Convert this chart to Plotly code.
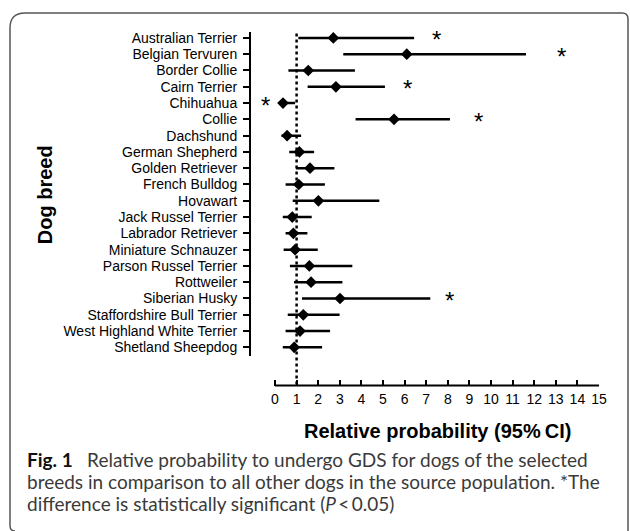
import plotly.graph_objects as go

breeds = ["Australian Terrier", "Belgian Tervuren", "Border Collie", "Cairn Terrier",
          "Chihuahua", "Collie", "Dachshund", "German Shepherd", "Golden Retriever",
          "French Bulldog", "Hovawart", "Jack Russel Terrier", "Labrador Retriever",
          "Miniature Schnauzer", "Parson Russel Terrier", "Rottweiler", "Siberian Husky",
          "Staffordshire Bull Terrier", "West Highland White Terrier", "Shetland Sheepdog"]
estimate = [2.70, 6.10, 1.54, 2.82, 0.37, 5.51, 0.56, 1.13, 1.62,
            1.10, 2.01, 0.80, 0.85, 0.93, 1.59, 1.67, 3.01, 1.31, 1.16, 0.89]
ci_low = [1.08, 3.16, 0.62, 1.51, 0.20, 3.73, 0.30, 0.66, 0.97,
          0.49, 0.82, 0.36, 0.49, 0.40, 0.69, 0.88, 1.25, 0.59, 0.49, 0.36]
ci_high = [6.44, 11.62, 3.70, 5.09, 0.93, 8.10, 1.21, 1.81, 2.75,
           2.31, 4.83, 1.70, 1.50, 1.98, 3.58, 3.12, 7.19, 2.99, 2.55, 2.18]
# x position (relative probability units) of significance asterisk, None = not significant
star_x = [7.48, 13.27, None, 6.13, -0.42, 9.41, None, None, None,
          None, None, None, None, None, None, None, 8.10, None, None, None]
x_ticks = list(range(0, 16))
reference_value = 1

W, H = 630, 531
WX = 622  # effective horizontal extent observed in the rendered page
def px(x):
    return x / WX
def py(y):
    return 1 - y / H

ARIAL = "Liberation Sans, Arial, sans-serif"
rows = list(range(len(breeds)))

fig = go.Figure()
fig.add_trace(go.Scatter(
    x=estimate, y=rows, mode="markers",
    marker=dict(symbol="diamond", size=9, color="black"),
    error_x=dict(type="data", symmetric=False,
                 array=[h - e for h, e in zip(ci_high, estimate)],
                 arrayminus=[e - l for e, l in zip(estimate, ci_low)],
                 thickness=2.5, width=0, color="black"),
    cliponaxis=False, showlegend=False, hoverinfo="skip"))

annotations = []
for r, sx in zip(rows, star_x):
    if sx is not None:
        annotations.append(dict(x=sx, y=r, xref="x", yref="y", text="*", showarrow=False,
                                font=dict(family=ARIAL, size=24, color="black"),
                                xanchor="center", yanchor="middle", yshift=-2))

# axis titles
annotations.append(dict(x=px(437), y=py(431), xref="paper", yref="paper",
                        text="<b>Relative probability (95%\u2009CI)</b>", showarrow=False,
                        font=dict(family=ARIAL, size=20, color="black"),
                        xanchor="center", yanchor="middle"))
annotations.append(dict(x=px(45), y=py(194), xref="paper", yref="paper",
                        text="<b>Dog breed</b>", showarrow=False, textangle=-90,
                        font=dict(family=ARIAL, size=20, color="black"),
                        xanchor="center", yanchor="middle"))

cap_font = dict(family="Lato, Open Sans, sans-serif", size=19, color="#3a3a3a")
cap_lines = [
    "<b><span style='color:#111'>Fig. 1</span></b>\u2002 Relative probability to undergo GDS for dogs of the selected",
    "breeds in comparison to all other dogs in the source population. *The",
    "difference is statistically significant (<i>P</i>\u2009&lt;\u20090.05)",
]
cap_y = [459, 481, 503]
for t, yy in zip(cap_lines, cap_y):
    annotations.append(dict(x=px(25), y=py(yy), xref="paper", yref="paper", text=t,
                            showarrow=False, font=cap_font, xanchor="left", yanchor="middle"))

# frame (rounded rectangle)
def P(x, y):
    return f"{px(x):.5f},{py(y):.5f}"
frame_path = (f"M {P(10, 526)} L {P(10, 26)} Q {P(10, 11)} {P(25, 11)} "
              f"L {P(622, 11)} Q {P(628, 11)} {P(628, 17)} L {P(628, 540)} "
              f"M {P(10, 526)} Q {P(10, 531)} {P(15, 531)}")

x_axis_y = py(385)
shapes = [
    dict(type="path", path=frame_path, xref="paper", yref="paper",
         line=dict(color="#555555", width=1.5)),
    # x axis baseline spanning only the tick range
    dict(type="line", xref="x", yref="paper", x0=x_ticks[0], x1=x_ticks[-1],
         y0=x_axis_y, y1=x_axis_y, line=dict(color="black", width=2)),
    dict(type="line", xref="x", yref="paper", x0=reference_value, x1=reference_value,
         y0=py(384), y1=py(30), line=dict(color="black", width=2.5, dash="dot")),
]

# x range starts left of 0 so that the y axis sits at the left edge of the domain
x_left = -25 / 21.6
fig.update_layout(
    width=W, height=H, margin=dict(l=0, r=0, t=0, b=0), autosize=False,
    paper_bgcolor="white", plot_bgcolor="rgba(0,0,0,0)",
    xaxis=dict(domain=[px(250), px(599)], range=[x_left, 15], anchor="free", position=x_axis_y,
               tickvals=x_ticks, ticktext=[str(v) for v in x_ticks],
               showline=False,
               ticks="inside", ticklen=6, tickwidth=2, tickcolor="black",
               showgrid=False, zeroline=False, ticklabelstandoff=3,
               tickfont=dict(family=ARIAL, size=14, color="black")),
    yaxis=dict(domain=[py(355), py(30)], range=[19.51, -0.37], anchor="free", position=px(250),
               tickvals=rows, ticktext=breeds,
               showline=True, linecolor="black", linewidth=2,
               ticks="outside", ticklen=6, tickwidth=2, tickcolor="black",
               showgrid=False, zeroline=False, ticklabelstandoff=3,
               tickfont=dict(family=ARIAL, size=14, color="black")),
    annotations=annotations, shapes=shapes,
)

fig.write_html("out.html")
